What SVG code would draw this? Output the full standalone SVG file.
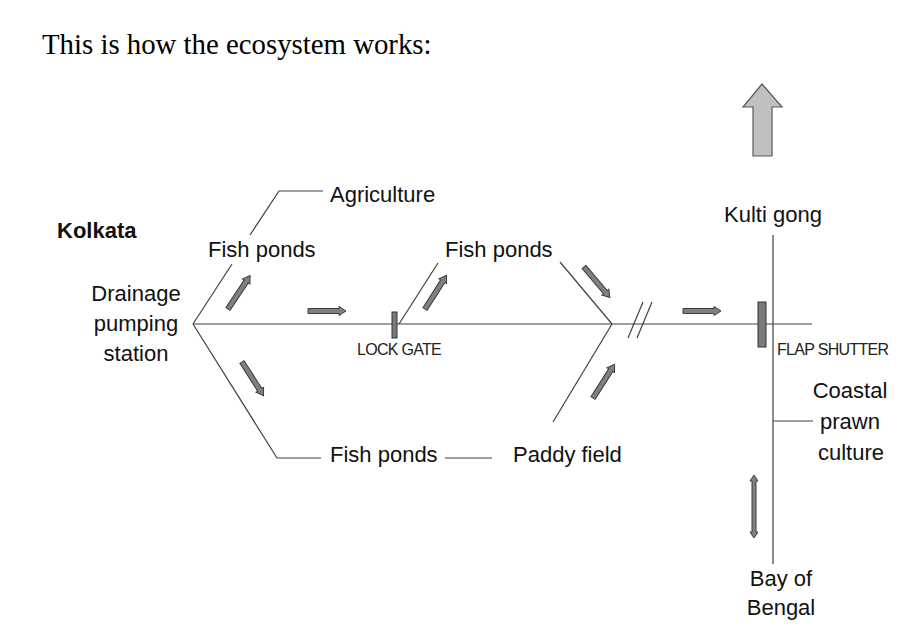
<svg xmlns="http://www.w3.org/2000/svg" xmlns:xlink="http://www.w3.org/1999/xlink" width="913" height="633" viewBox="0 0 913 633">
<style>
.t{font-family:"Liberation Sans",Arial,sans-serif;font-size:22px;fill:#111}
.s{font-family:"Liberation Sans",Arial,sans-serif;font-size:16px;fill:#222;letter-spacing:-0.7px}
.ln{stroke:#404040;stroke-width:1.2;fill:none}
.ar{fill:#808080;stroke:#3c3c3c;stroke-width:1}
.gate{fill:#7a7a7a;stroke:#333;stroke-width:1}
</style>
<defs>
<path id="a40" d="M0,-2.5 L33,-2.5 L33,-4.5 L40,0 L33,4.5 L33,2.5 L0,2.5 Z"/>
<path id="a38" d="M0,-2.5 L31,-2.5 L31,-4.5 L38,0 L31,4.5 L31,2.5 L0,2.5 Z"/>
</defs>
<rect width="913" height="633" fill="#fff"/>
<g id="title"><text x="42" y="54" style="font-family:'Liberation Serif','Times New Roman',serif;font-size:28.8px;fill:#000">This is how the ecosystem works:</text></g>

<g id="connectors">
<line class="ln" x1="193" y1="324" x2="812" y2="324"/>
<polyline class="ln" points="193,324 232,264"/>
<polyline class="ln" points="250,235 279,191 323,191"/>
<polyline class="ln" points="193,324 277,458 321,458"/>
<line class="ln" x1="445" y1="458" x2="492" y2="458"/>
<line class="ln" x1="399" y1="324" x2="438" y2="263"/>
<line class="ln" x1="560" y1="262" x2="612" y2="324"/>
<line class="ln" x1="612" y1="324" x2="553" y2="422"/>
<line class="ln" x1="628" y1="338" x2="643" y2="302"/>
<line class="ln" x1="637" y1="338" x2="652" y2="302"/>
<line class="ln" x1="773" y1="235" x2="773" y2="564"/>
<line class="ln" x1="773" y1="421" x2="813" y2="421"/>
<use href="#a40" class="ar" transform="translate(228,309) rotate(-56.5)"/>
<use href="#a38" class="ar" transform="translate(308,311)"/>
<use href="#a40" class="ar" transform="translate(425,309) rotate(-57.4)"/>
<use href="#a40" class="ar" transform="translate(584,267) rotate(49.7)"/>
<use href="#a38" class="ar" transform="translate(683,311)"/>
<use href="#a40" class="ar" transform="translate(593,398) rotate(-57.4)"/>
<use href="#a40" class="ar" transform="translate(242,362) rotate(57.4)"/>
<path class="ar" d="M754,475 L758,481 L756,481 L756,532 L758,532 L754,538 L750,532 L752,532 L752,481 L750,481 Z"/>
<path d="M762,84 L782,107 L772,107 L772,156 L753,156 L753,107 L743,107 Z" fill="#c0c0c0" stroke="#5a5a5a" stroke-width="1.2"/>
</g>

<g id="lock-gate">
<rect class="gate" x="392" y="312" width="5" height="26"/>
<text class="s" x="357" y="355">LOCK GATE</text>
</g>
<g id="flap-shutter">
<rect class="gate" x="758" y="302" width="8" height="45"/>
<text class="s" x="777" y="355">FLAP SHUTTER</text>
</g>

<g id="kolkata"><text class="t" x="57" y="238" style="font-weight:bold">Kolkata</text></g>
<g id="drainage">
<text class="t" x="136" y="301" text-anchor="middle">Drainage</text>
<text class="t" x="136" y="331" text-anchor="middle">pumping</text>
<text class="t" x="136" y="361" text-anchor="middle">station</text>
</g>
<g id="agriculture"><text class="t" x="330" y="202">Agriculture</text></g>
<g id="fish-ponds-1"><text class="t" x="208" y="257">Fish ponds</text></g>
<g id="fish-ponds-2"><text class="t" x="445" y="257">Fish ponds</text></g>
<g id="fish-ponds-3"><text class="t" x="330" y="462">Fish ponds</text></g>
<g id="paddy-field"><text class="t" x="513" y="462">Paddy field</text></g>
<g id="kulti-gong"><text class="t" x="773" y="222" text-anchor="middle">Kulti gong</text></g>
<g id="coastal">
<text class="t" x="850" y="398" text-anchor="middle">Coastal</text>
<text class="t" x="850" y="429" text-anchor="middle">prawn</text>
<text class="t" x="851" y="460" text-anchor="middle">culture</text>
</g>
<g id="bay">
<text class="t" x="781" y="586" text-anchor="middle">Bay of</text>
<text class="t" x="781" y="615" text-anchor="middle">Bengal</text>
</g>
</svg>
